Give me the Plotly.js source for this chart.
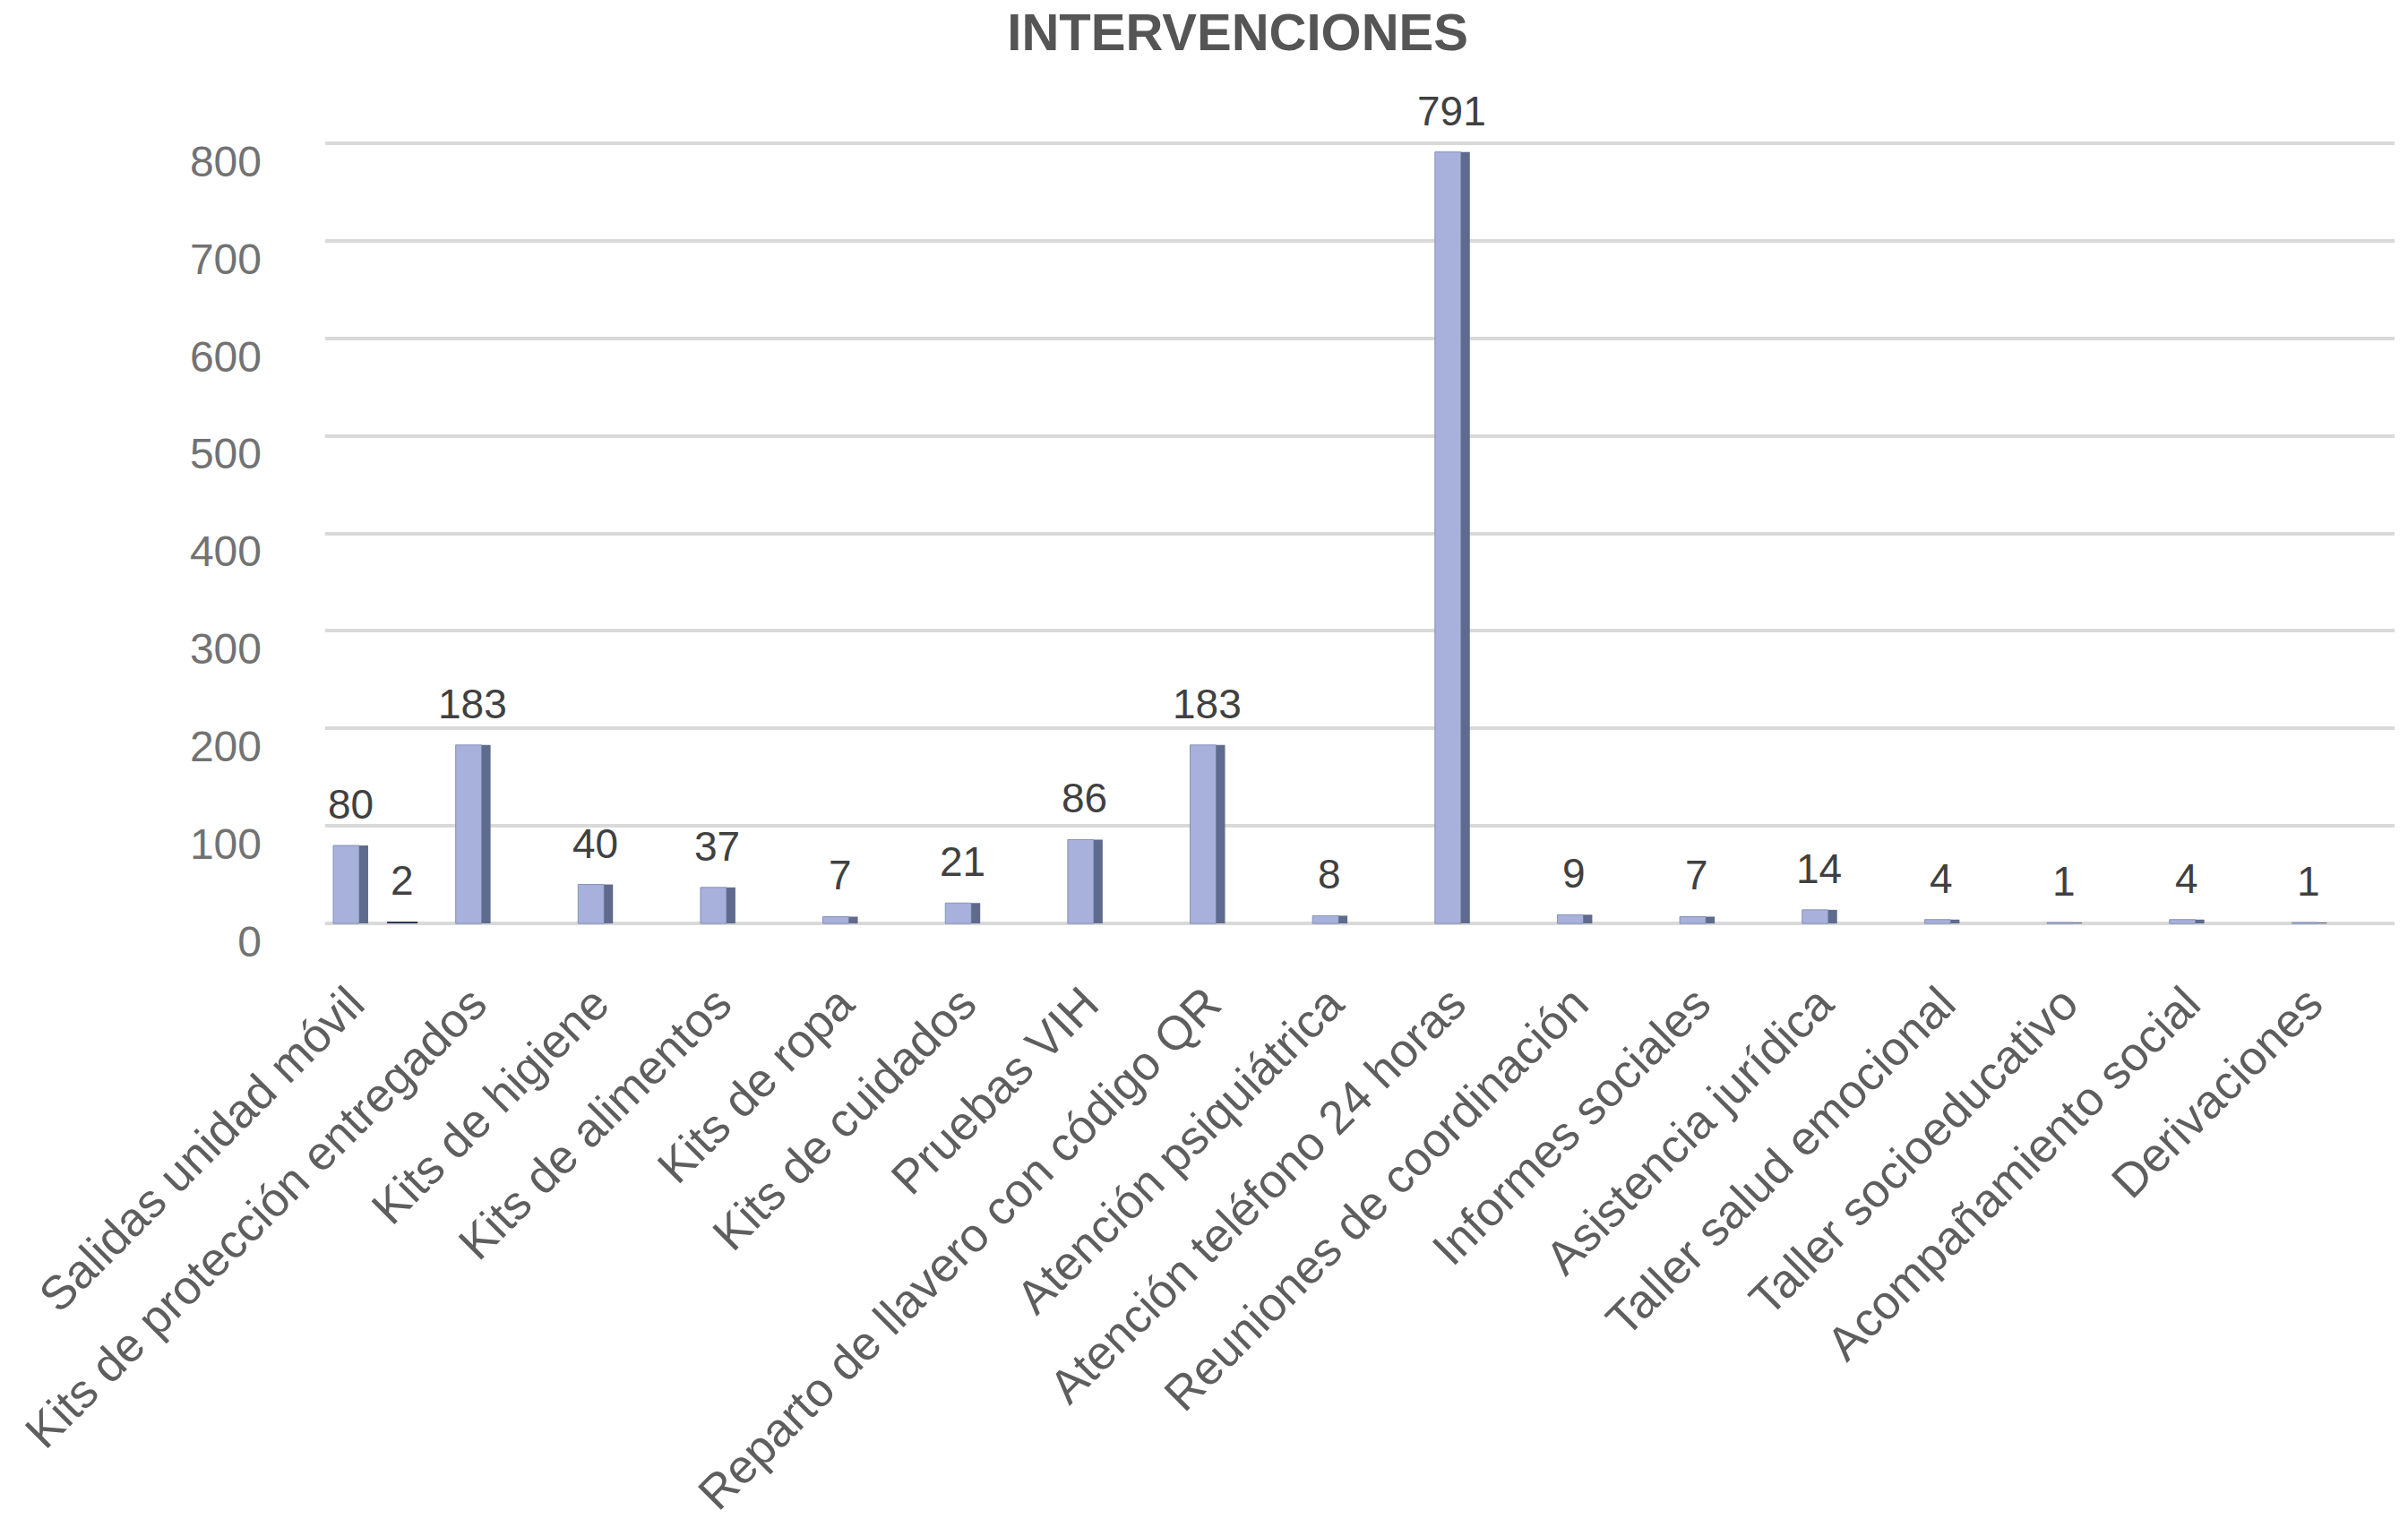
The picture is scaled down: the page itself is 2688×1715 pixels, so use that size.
<!DOCTYPE html>
<html>
<head>
<meta charset="utf-8">
<script src="https://cdn.plot.ly/plotly-3.0.1.min.js"></script>
<style>
  html, body { margin: 0; padding: 0; background: #ffffff; }
  #chart { width: 2688px; height: 1715px; }
</style>
</head>
<body>
<div id="chart"></div>
<script>
// ---- data ----
const chartTitle = "INTERVENCIONES";
const categories = [
  "Salidas unidad móvil",
  "Kits de protección entregados",
  "Kits de higiene",
  "Kits de alimentos",
  "Kits de ropa",
  "Kits de cuidados",
  "Pruebas VIH",
  "Reparto de llavero con código QR",
  "Atención psiquiátrica",
  "Atención teléfono 24 horas",
  "Reuniones de coordinación",
  "Informes sociales",
  "Asistencia jurídica",
  "Taller salud emocional",
  "Taller socioeducativo",
  "Acompañamiento social",
  "Derivaciones"
];
const values = [80, 183, 40, 37, 7, 21, 86, 183, 8, 791, 9, 7, 14, 4, 1, 4, 1];
// small extra dark bar drawn next to the first category
const extraCategories = ["Salidas unidad móvil"];
const extraValues = [2];
const yTickValues = [0, 100, 200, 300, 400, 500, 600, 700, 800];

// ---- styling ----
const FONT = "Liberation Sans, Arial, sans-serif";

const faceTrace = {
  type: "bar",
  x: categories,
  y: values,
  width: 0.212,
  offset: -0.139,
  marker: { color: "#a7b1dc", line: { color: "#8591b8", width: 1 } },
  hoverinfo: "x+y",
  showlegend: false
};
const sideTrace = {
  type: "bar",
  x: categories,
  y: values,
  width: 0.073,
  offset: 0.073,
  marker: { color: "#5f6b8d", line: { width: 0 } },
  hoverinfo: "skip",
  showlegend: false
};
const extraTrace = {
  type: "bar",
  x: extraCategories,
  y: extraValues,
  width: 0.25,
  offset: 0.30,
  marker: { color: "#2c3652", line: { width: 0 } },
  hoverinfo: "x+y",
  showlegend: false
};

const annotations = [];
categories.forEach((c, i) => {
  annotations.push({
    x: c, y: values[i], xref: "x", yref: "y",
    text: String(values[i]), showarrow: false,
    yanchor: "middle", xanchor: "center", yshift: 46,
    font: { family: FONT, size: 46, color: "#404040" }
  });
});
extraCategories.forEach((c, i) => {
  annotations.push({
    x: c, y: extraValues[i], xref: "x", yref: "y",
    text: String(extraValues[i]), showarrow: false,
    yanchor: "middle", xanchor: "center", yshift: 46, xshift: 58,
    font: { family: FONT, size: 46, color: "#404040" }
  });
});

const layout = {
  width: 2688,
  height: 1715,
  paper_bgcolor: "#ffffff",
  plot_bgcolor: "#ffffff",
  barmode: "overlay",
  margin: { l: 363, r: 15, t: 149, b: 673, pad: 0 },
  title: {
    text: "<b>" + chartTitle + "</b>",
    font: { family: FONT, size: 58, color: "#555555" },
    xref: "container", x: 0.514, xanchor: "center",
    yref: "container", y: 0.979, yanchor: "middle"
  },
  xaxis: {
    type: "category",
    categoryorder: "array",
    categoryarray: categories,
    range: [-0.205, 16.70],
    showgrid: false,
    zeroline: false,
    showline: false,
    ticks: "",
    tickangle: -45,
    tickfont: { family: FONT, size: 53, color: "#5e5e5e" },
    ticklabelstandoff: 36
  },
  yaxis: {
    range: [-10, 810],
    tickmode: "array",
    tickvals: yTickValues,
    ticktext: yTickValues.map(String),
    showgrid: true,
    gridcolor: "#d9d9d9",
    gridwidth: 4,
    zeroline: false,
    showline: false,
    ticks: "",
    tickfont: { family: FONT, size: 48, color: "#727272" },
    ticklabelstandoff: 70,
    ticklabelshift: 20
  },
  annotations: annotations,
  showlegend: false
};

Plotly.newPlot("chart", [faceTrace, sideTrace, extraTrace], layout, { displayModeBar: false, staticPlot: true });
</script>
</body>
</html>
